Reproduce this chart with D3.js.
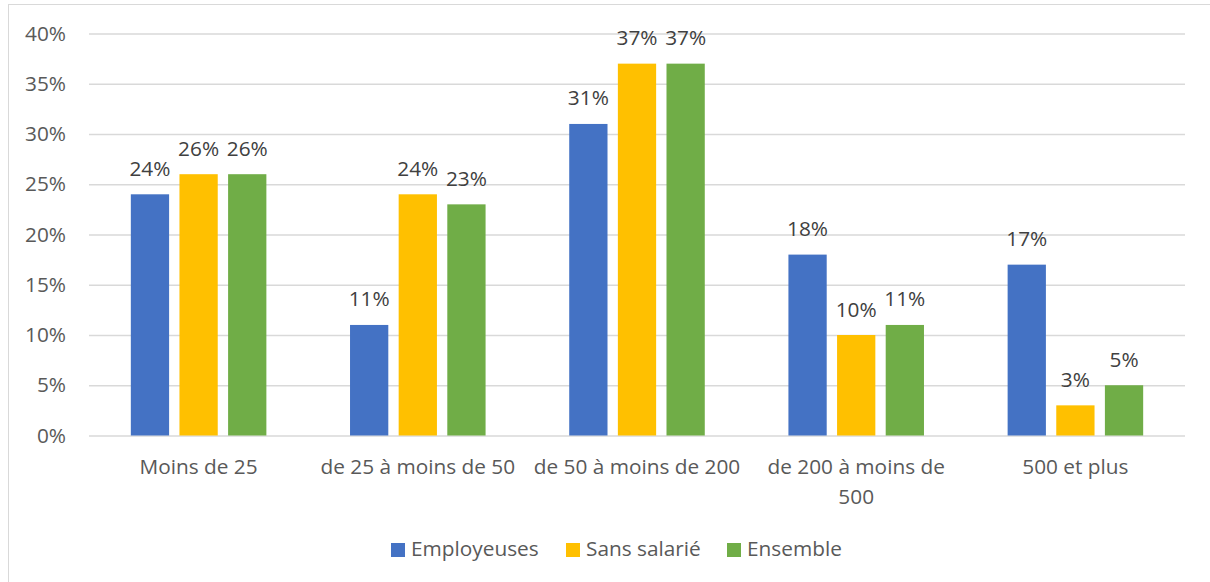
<!DOCTYPE html>
<html>
<head>
<meta charset="utf-8">
<script src="https://cdn.jsdelivr.net/npm/d3@7"></script>
<style>
  html, body { margin: 0; padding: 0; background: #fff; }
  svg text { font-family: "Open Sans", "Liberation Sans", sans-serif; }
</style>
</head>
<body>
<div id="chart"></div>
<script>
const categories = ['Moins de 25', 'de 25 à moins de 50', 'de 50 à moins de 200', 'de 200 à moins de 500', '500 et plus'];
const categoryLines = [['Moins de 25'], ['de 25 à moins de 50'], ['de 50 à moins de 200'], ['de 200 à moins de', '500'], ['500 et plus']];
const seriesNames = ['Employeuses', 'Sans salarié', 'Ensemble'];
const employeuses = [24, 11, 31, 18, 17];
const sansSalarie = [26, 24, 37, 10, 3];
const ensemble = [26, 23, 37, 11, 5];
const yTicks = [0, 5, 10, 15, 20, 25, 30, 35, 40];
const colors = ['#4472C4', '#FFC000', '#70AD47'];

const W = 1210, H = 582;
const plot = { left: 89, right: 1185, top: 33.5, bottom: 435.5 };
const FONT = 20.8;

const svg = d3.select('#chart').append('svg')
    .attr('width', W)
    .attr('height', H);

// chart frame (right/bottom edges fall outside the picture)
svg.append('rect')
    .attr('x', 8.5).attr('y', 4.5)
    .attr('width', W + 10).attr('height', H + 10)
    .attr('fill', 'none')
    .attr('stroke', '#D9D9D9');

const x0 = d3.scaleBand()
    .domain(categories)
    .range([plot.left, plot.right])
    .padding(0);

const x1 = d3.scaleBand()
    .domain(seriesNames)
    .range([0, x0.bandwidth()])
    .paddingInner(0.213)
    .paddingOuter(0.86);

const y = d3.scaleLinear()
    .domain([0, 40])
    .range([plot.bottom, plot.top]);

const yAxis = d3.axisLeft(y)
    .tickValues(yTicks)
    .tickFormat(d => d + '%')
    .tickSize(-(plot.right - plot.left))
    .tickPadding(23);

const axisG = svg.append('g')
    .attr('transform', `translate(${plot.left},0)`)
    .call(yAxis);
axisG.select('.domain').remove();
axisG.selectAll('line')
    .attr('stroke', '#D9D9D9')
    .attr('stroke-width', 1.5);
axisG.selectAll('text')
    .attr('fill', '#595959')
    .style('font-size', FONT + 'px');

const seriesValues = [employeuses, sansSalarie, ensemble];
const rows = [];
categories.forEach((c, i) => {
    seriesNames.forEach((s, j) => rows.push({ cat: c, series: s, value: seriesValues[j][i], color: colors[j] }));
});

svg.append('g').selectAll('rect')
    .data(rows)
    .join('rect')
    .attr('x', d => x0(d.cat) + x1(d.series))
    .attr('y', d => y(d.value))
    .attr('width', x1.bandwidth())
    .attr('height', d => y(0) - y(d.value))
    .attr('fill', d => d.color);

svg.append('g').selectAll('text')
    .data(rows)
    .join('text')
    .attr('x', d => x0(d.cat) + x1(d.series) + x1.bandwidth() / 2)
    .attr('y', d => y(d.value) - 18.5)
    .attr('text-anchor', 'middle')
    .attr('fill', '#404040')
    .style('font-size', FONT + 'px')
    .text(d => d.value + '%');

// category labels
const catG = svg.append('g');
categories.forEach((c, i) => {
    const t = catG.append('text')
        .attr('x', x0(c) + x0.bandwidth() / 2)
        .attr('y', 473.5)
        .attr('text-anchor', 'middle')
        .attr('fill', '#595959')
        .style('font-size', FONT + 'px');
    categoryLines[i].forEach((line, k) => {
        t.append('tspan')
            .attr('x', x0(c) + x0.bandwidth() / 2)
            .attr('dy', k === 0 ? 0 : 30)
            .text(line);
    });
});

// legend
const legendX = [391, 566, 727];
const legend = svg.append('g');
seriesNames.forEach((s, j) => {
    legend.append('rect')
        .attr('x', legendX[j]).attr('y', 543)
        .attr('width', 14).attr('height', 14)
        .attr('fill', colors[j]);
    legend.append('text')
        .attr('x', legendX[j] + 20)
        .attr('y', 556)
        .attr('fill', '#595959')
        .style('font-size', FONT + 'px')
        .text(s);
});
</script>
</body>
</html>
